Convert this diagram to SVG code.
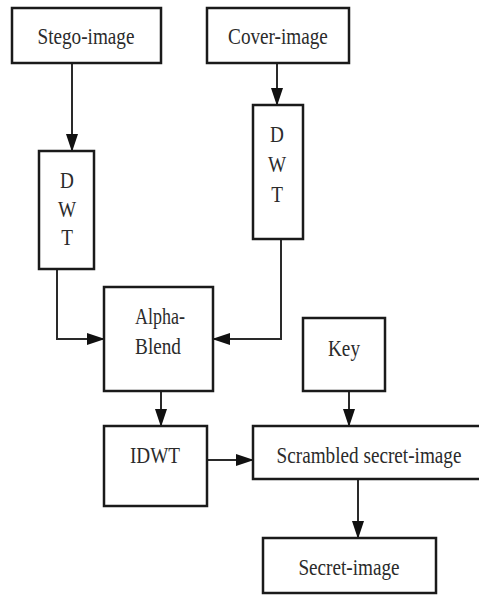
<svg xmlns="http://www.w3.org/2000/svg" width="479" height="595" viewBox="0 0 479 595">
<style>
.box{fill:#fff;stroke:#1a1a1a;stroke-width:2.5}
.t{font-family:"Liberation Serif","Times New Roman","DejaVu Serif",serif;font-size:24px;fill:#2b2b2b;text-anchor:middle}
.c{fill:none;stroke:#2a2a2a;stroke-width:2;marker-end:url(#ah)}
</style>
<defs>
<marker id="ah" markerUnits="userSpaceOnUse" markerWidth="18" markerHeight="12" refX="17" refY="6" orient="auto">
<path d="M0,0 L18,6 L0,12 z" fill="#111"/>
</marker>
</defs>
<rect width="479" height="595" fill="#fff"/>
<g id="connectors">
<path class="c" d="M72,63 V151"/>
<path class="c" d="M277,63 V105"/>
<path class="c" d="M57,269 V339 H104"/>
<path class="c" d="M281,239 V339 H213"/>
<path class="c" d="M161,391 V426"/>
<path class="c" d="M207,460 H253"/>
<path class="c" d="M349,391 V426"/>
<path class="c" d="M358,479 V538"/>
</g>
<g id="stego">
<rect class="box" x="12" y="8" width="149" height="55"/>
<text class="t" transform="translate(86,44) scale(0.8,1)">Stego-image</text>
</g>
<g id="cover">
<rect class="box" x="207" y="8" width="142" height="55"/>
<text class="t" transform="translate(278,44) scale(0.8,1)">Cover-image</text>
</g>
<g id="dwt1">
<rect class="box" x="39" y="151" width="55" height="118"/>
<text class="t" transform="translate(67,188) scale(0.8,1)">D</text>
<text class="t" transform="translate(67,217) scale(0.8,1)">W</text>
<text class="t" transform="translate(67,245) scale(0.8,1)">T</text>
</g>
<g id="dwt2">
<rect class="box" x="253" y="105" width="50" height="134"/>
<text class="t" transform="translate(277,142) scale(0.8,1)">D</text>
<text class="t" transform="translate(277,172) scale(0.8,1)">W</text>
<text class="t" transform="translate(277,202) scale(0.8,1)">T</text>
</g>
<g id="alpha">
<rect class="box" x="104" y="287" width="109" height="104"/>
<text class="t" transform="translate(160,324) scale(0.75,1)">Alpha-</text>
<text class="t" transform="translate(158,354) scale(0.8,1)">Blend</text>
</g>
<g id="idwt">
<rect class="box" x="104" y="426" width="103" height="80"/>
<text class="t" transform="translate(155,463) scale(0.8,1)">IDWT</text>
</g>
<g id="key">
<rect class="box" x="303" y="318" width="82" height="73"/>
<text class="t" transform="translate(344,356) scale(0.8,1)">Key</text>
</g>
<g id="scrambled">
<rect x="253" y="426" width="226" height="53" fill="#fff"/>
<path d="M479,426 H253 V479 H479" fill="none" stroke="#1a1a1a" stroke-width="2.5"/>
<text class="t" transform="translate(369,463) scale(0.8,1)">Scrambled secret-image</text>
</g>
<g id="secret">
<rect class="box" x="263" y="538" width="173" height="55"/>
<text class="t" transform="translate(349,575) scale(0.8,1)">Secret-image</text>
</g>
</svg>
